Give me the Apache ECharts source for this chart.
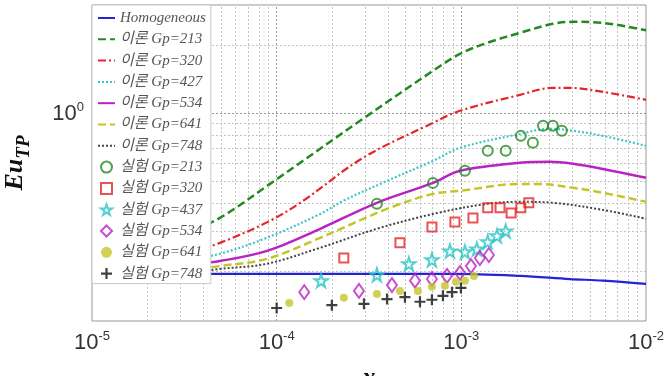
<!DOCTYPE html>
<html>
<head>
<meta charset="utf-8">
<script src="https://cdn.jsdelivr.net/npm/echarts@6/dist/echarts.min.js"></script>
<style>
html,body{margin:0;padding:0;background:#fff;}
#chart{width:669px;height:376px;}
</style>
</head>
<body>
<div id="chart"></div>
<script>
// ---- axis ranges and ticks ----
const xAxisMin = 1e-5, xAxisMax = 1e-2;
const yAxisMin = 0.12, yAxisMax = 3;
const xTickValues = [1e-5, 1e-4, 1e-3, 1e-2];
const xTickExponents = ['-5', '-4', '-3', '-2'];
const yTickValues = [1];
const yTickExponents = ['0'];
const xMajorGrid = [1e-4, 1e-3];
const xMinorGrid = [2e-5,3e-5,4e-5,5e-5,6e-5,7e-5,8e-5,9e-5,
                    2e-4,3e-4,4e-4,5e-4,6e-4,7e-4,8e-4,9e-4,
                    2e-3,3e-3,4e-3,5e-3,6e-3,7e-3,8e-3,9e-3];
const yMajorGrid = [1];
const yMinorGrid = [0.2,0.3,0.4,0.5,0.6,0.7,0.8,0.9,2];

// ---- series names ----
const lineNames = ['Homogeneous','이론 Gp=213','이론 Gp=320','이론 Gp=427','이론 Gp=534','이론 Gp=641','이론 Gp=748'];
const expNames = ['실험 Gp=213','실험 Gp=320','실험 Gp=437','실험 Gp=534','실험 Gp=641','실험 Gp=748'];

// ---- theory curves [x, Eu_TP] ----
const homogeneous = [[1e-5,0.194],[1.34e-4,0.194],[9.0e-4,0.194],[2.08e-3,0.19],[3.87e-3,0.184],[5.85e-3,0.181],[1e-2,0.175]];
const theory213 = [[1e-5,0.226],[2.06e-5,0.258],[3.39e-5,0.30],[4.93e-5,0.343],[9.2e-5,0.485],[2.93e-4,0.941],[7.02e-4,1.534],[9.83e-4,1.824],[1.38e-3,2.04],[2.08e-3,2.26],[3.13e-3,2.476],[4.02e-3,2.527],[5.85e-3,2.50],[1e-2,2.32]];
const theory320 = [[1e-5,0.208],[2.06e-5,0.224],[3.39e-5,0.243],[4.93e-5,0.266],[9.2e-5,0.333],[1.39e-4,0.408],[2.93e-4,0.632],[7.02e-4,0.903],[9.83e-4,1.021],[2.08e-3,1.201],[3.13e-3,1.29],[3.87e-3,1.29],[5.85e-3,1.238],[1e-2,1.142]];
const theory427 = [[1e-5,0.202],[2.06e-5,0.215],[3.39e-5,0.226],[4.93e-5,0.238],[8.86e-5,0.28],[1.72e-4,0.357],[2.29e-4,0.408],[3.96e-4,0.50],[7.02e-4,0.613],[9.83e-4,0.70],[2.08e-3,0.807],[3.02e-3,0.85],[4.02e-3,0.833],[5.85e-3,0.791],[1e-2,0.715]];
const theory534 = [[1e-5,0.196],[2.06e-5,0.204],[3.39e-5,0.213],[4.93e-5,0.221],[8.86e-5,0.245],[1.72e-4,0.307],[3.49e-4,0.40],[7.02e-4,0.49],[9.83e-4,0.554],[2.08e-3,0.601],[3.02e-3,0.607],[4.02e-3,0.595],[5.85e-3,0.565],[1e-2,0.516]];
const theory641 = [[1e-5,0.188],[2.06e-5,0.196],[3.39e-5,0.202],[4.93e-5,0.21],[8.86e-5,0.226],[1.72e-4,0.28],[3.96e-4,0.376],[7.02e-4,0.438],[9.83e-4,0.452],[2.08e-3,0.485],[2.57e-3,0.485],[4.02e-3,0.466],[5.85e-3,0.443],[1e-2,0.404]];
const theory748 = [[1e-5,0.182],[2.06e-5,0.19],[3.39e-5,0.196],[4.93e-5,0.204],[8.86e-5,0.215],[1.72e-4,0.253],[3.49e-4,0.307],[7.02e-4,0.357],[1.38e-3,0.396],[2.08e-3,0.404],[3.13e-3,0.40],[5.85e-3,0.372],[1e-2,0.34]];

// ---- experiments [x, Eu_TP] ----
const exp213 = [[3.49e-4,0.396],[7.02e-4,0.49],[1.046e-3,0.554],[1.39e-3,0.679],[1.74e-3,0.679],[2.10e-3,0.791],[2.44e-3,0.737],[2.77e-3,0.876],[3.13e-3,0.876],[3.5e-3,0.833]];
const exp320 = [[2.31e-4,0.228],[4.65e-4,0.266],[6.93e-4,0.313],[9.23e-4,0.329],[1.156e-3,0.343],[1.39e-3,0.38],[1.62e-3,0.38],[1.86e-3,0.361],[2.10e-3,0.38],[2.32e-3,0.40]];
const exp437 = [[1.74e-4,0.181],[3.49e-4,0.192],[5.2e-4,0.215],[6.93e-4,0.224],[8.68e-4,0.245],[1.046e-3,0.243],[1.214e-3,0.25],[1.39e-3,0.269],[1.56e-3,0.286],[1.74e-3,0.30]];
const exp534 = [[1.41e-4,0.161],[2.79e-4,0.163],[4.21e-4,0.173],[5.61e-4,0.181],[6.93e-4,0.184],[8.36e-4,0.19],[9.83e-4,0.196],[1.127e-3,0.21],[1.26e-3,0.228],[1.41e-3,0.235]];
const exp641 = [[1.17e-4,0.144],[2.31e-4,0.152],[3.49e-4,0.158],[4.65e-4,0.163],[5.82e-4,0.163],[6.93e-4,0.17],[8.15e-4,0.172],[9.35e-4,0.179],[1.046e-3,0.181],[1.17e-3,0.19]];
const exp748 = [[1.0e-4,0.137],[1.99e-4,0.141],[2.97e-4,0.143],[3.96e-4,0.15],[4.95e-4,0.153],[5.97e-4,0.146],[6.93e-4,0.149],[7.95e-4,0.155],[8.9e-4,0.161],[9.95e-4,0.168]];

const serif = "'Liberation Serif','Times New Roman','Noto Sans CJK KR',serif";
const sans = "'Liberation Sans',Arial,sans-serif";

function expLabel(value, ticks, exps) {
  for (let i = 0; i < ticks.length; i++) {
    if (Math.abs(Math.log10(value) - Math.log10(ticks[i])) < 1e-6) {
      return '{n|10}{s|' + exps[i] + '}';
    }
  }
  return '';
}
const tickRich = {
  n: {fontFamily: sans, fontSize: 22, color: '#333', verticalAlign: 'bottom'},
  s: {fontFamily: sans, fontSize: 13, color: '#333', verticalAlign: 'bottom', padding: [0,0,11,0]}
};

function lineSeries(name, data, color, type, width) {
  return {name, type: 'line', data, showSymbol: false, symbol: 'none', smooth: 0.35,
    lineStyle: {color, type, width}, itemStyle: {color}, z: 3};
}
function scatterSeries(name, data, symbol, size, color, filled, bw) {
  return {name, type: 'scatter', data, symbol, symbolSize: size,
    itemStyle: filled ? {color, borderWidth: 0} : {color: 'rgba(255,255,255,0)', borderColor: color, borderWidth: bw},
    z: 4};
}

const starPath = 'path://M50,2 L62,38 L99,38 L69,60 L80,96 L50,74 L20,96 L31,60 L1,38 L38,38 Z';
const plusPath = 'path://M4,0 H6 V4 H10 V6 H6 V10 H4 V6 H0 V4 H4 Z';

const minorColor = '#c4c4c4', majorColor = '#9a9a9a';
const gridLineData = []
  .concat(xMinorGrid.map(v => [{coord: [v, yAxisMin], lineStyle: {color: minorColor}}, {coord: [v, yAxisMax]}]))
  .concat(xMajorGrid.map(v => [{coord: [v, yAxisMin], lineStyle: {color: majorColor}}, {coord: [v, yAxisMax]}]))
  .concat(yMinorGrid.map(v => [{coord: [xAxisMin, v], lineStyle: {color: minorColor}}, {coord: [xAxisMax, v]}]))
  .concat(yMajorGrid.map(v => [{coord: [xAxisMin, v], lineStyle: {color: majorColor}}, {coord: [xAxisMax, v]}]));

const rowH = 21.3;
const legendText = {fontFamily: serif, fontStyle: 'italic', fontSize: 15, color: '#555', lineHeight: 16};

const chart = echarts.init(document.getElementById('chart'), null, {renderer: 'canvas'});
chart.setOption({
  animation: false,
  backgroundColor: '#fff',
  grid: {left: 92, right: 23, top: 5, bottom: 55, show: true, borderColor: '#999', borderWidth: 1,
         outerBoundsMode: 'none', containLabel: false},
  legend: [
    {
      data: lineNames.map(n => ({name: n, itemStyle: {opacity: 0}})),
      orient: 'vertical', left: 92, top: 5,
      padding: [5, 5, 2 + 6 * rowH, 5],
      itemWidth: 17, itemHeight: 11, itemGap: rowH - 16,
      backgroundColor: '#fff', borderColor: '#c8c8c8', borderWidth: 1,
      textStyle: legendText,
      z: 10
    },
    {
      data: expNames,
      orient: 'vertical', left: 100, top: 10 + 7 * rowH,
      padding: 0,
      itemWidth: 11, itemHeight: 11, itemGap: rowH - 16,
      textStyle: Object.assign({}, legendText, {padding: [0, 0, 0, 3]}),
      z: 11
    }
  ],
  xAxis: {
    type: 'log', logBase: 10, min: xAxisMin, max: xAxisMax,
    axisLine: {show: false}, axisTick: {show: false}, splitLine: {show: false},
    axisLabel: {margin: 9, formatter: v => expLabel(v, xTickValues, xTickExponents), rich: tickRich},
    name: 'x', nameLocation: 'middle', nameGap: 44,
    nameTextStyle: {fontFamily: serif, fontStyle: 'italic', fontWeight: 'bold', fontSize: 26, color: '#111', verticalAlign: 'top'}
  },
  yAxis: {
    type: 'log', logBase: 10, min: yAxisMin, max: yAxisMax,
    axisLine: {show: false}, axisTick: {show: false}, splitLine: {show: false},
    axisLabel: {margin: 8, formatter: v => expLabel(v, yTickValues, yTickExponents), rich: tickRich},
    name: '{a|Eu}{b|TP}', nameLocation: 'middle', nameGap: 58, nameRotate: 90,
    nameTextStyle: {
      rich: {
        a: {fontFamily: serif, fontStyle: 'italic', fontWeight: 'bold', fontSize: 26, color: '#111', verticalAlign: 'bottom', padding: [0,0,6,0]},
        b: {fontFamily: serif, fontStyle: 'italic', fontWeight: 'bold', fontSize: 19, color: '#111', verticalAlign: 'bottom'}
      }
    }
  },
  series: [
    {name: 'grid', type: 'line', data: [], z: 1, silent: true,
      markLine: {silent: true, symbol: ['none','none'], label: {show: false}, z: 1, animation: false,
        lineStyle: {type: [2, 2], width: 1}, data: gridLineData}},
    lineSeries(lineNames[0], homogeneous, '#2323d8', 'solid', 2.2),
    lineSeries(lineNames[1], theory213, '#238a23', [8, 4], 2.5),
    lineSeries(lineNames[2], theory320, '#e3262b', [8, 3, 2, 3], 2.2),
    lineSeries(lineNames[3], theory427, '#3cc6c6', [2, 2], 2.2),
    lineSeries(lineNames[4], theory534, '#b923c4', 'solid', 2.5),
    lineSeries(lineNames[5], theory641, '#c5c52a', [8, 4], 2.5),
    lineSeries(lineNames[6], theory748, '#444444', [2, 2], 2),
    scatterSeries(expNames[0], exp213, 'circle', 10, '#238a23', false, 2),
    scatterSeries(expNames[1], exp320, 'rect', 9, '#e3262b', false, 2),
    scatterSeries(expNames[2], exp437, starPath, 13, '#2cc4c4', false, 2),
    scatterSeries(expNames[3], exp534, 'diamond', [10, 14], '#b923c4', false, 2),
    scatterSeries(expNames[4], exp641, 'circle', 8, '#c5c52a', true, 0),
    scatterSeries(expNames[5], exp748, plusPath, 11, '#111111', true, 0)
  ]
});
</script>
</body>
</html>
